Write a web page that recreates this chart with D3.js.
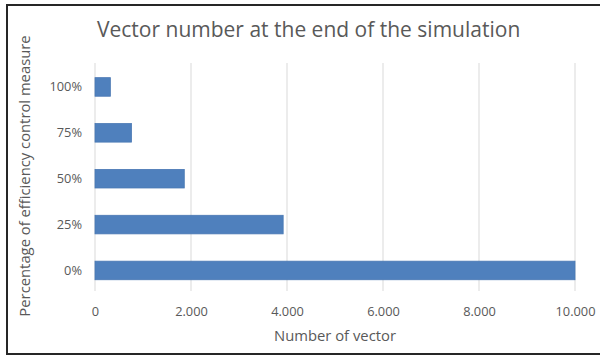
<!DOCTYPE html>
<html>
<head>
<meta charset="utf-8">
<script src="https://cdn.jsdelivr.net/npm/d3@7/dist/d3.min.js"></script>
<style>
  html, body { margin: 0; padding: 0; background: #fff; }
  svg { display: block; }
  text { font-family: "Open Sans", Lato, sans-serif; fill: #595959; }
</style>
</head>
<body>
<svg id="chart" width="600" height="355"></svg>
<script>
// Vector counts at the end of the simulation, per control-efficiency level
const categories = ["0%", "25%", "50%", "75%", "100%"];
const vectorCounts = [10000, 3920, 1860, 760, 320];
const xTicks = [0, 2000, 4000, 6000, 8000, 10000];

const chartTitle = "Vector number at the end of the simulation";
const xTitle = "Number of vector";
const yTitle = "Percentage of efficiency control measure";

const W = 600, H = 355;
const plot = { left: 95, right: 575, top: 63, bottom: 291 };

const svg = d3.select("#chart");

// white background with dark frame
svg.append("rect")
  .attr("x", 7).attr("y", 5).attr("width", W).attr("height", H - 6)
  .attr("fill", "#fff").attr("stroke", "#262626").attr("stroke-width", 2);

const x = d3.scaleLinear().domain([0, 10000]).range([plot.left, plot.right]);
const y = d3.scaleBand()
  .domain(categories.slice().reverse())
  .range([64, 293.4])
  .paddingInner(0.595)
  .paddingOuter(0.2975);

// vertical gridlines
svg.append("g")
  .selectAll("line")
  .data(xTicks)
  .join("line")
  .attr("x1", d => x(d)).attr("x2", d => x(d))
  .attr("y1", plot.top).attr("y2", plot.bottom)
  .attr("stroke", "#d9d9d9").attr("stroke-width", 1);

// bars
svg.append("g")
  .selectAll("rect")
  .data(categories.map((c, i) => ({ c, v: vectorCounts[i] })))
  .join("rect")
  .attr("x", x(0))
  .attr("y", d => y(d.c))
  .attr("width", d => x(d.v) - x(0))
  .attr("height", y.bandwidth())
  .attr("fill", "#4f80bd")
  .attr("stroke", "#4a78b3").attr("stroke-width", 0.8);

// x axis labels
const fmt = d => d === 0 ? "0" : d3.format(",")(d).replace(/,/g, ".");
const xAxis = svg.append("g")
  .attr("transform", `translate(0,${plot.bottom})`)
  .call(d3.axisBottom(x).tickValues(xTicks).tickFormat(fmt).tickSize(0).tickPadding(16));
xAxis.select(".domain").remove();
xAxis.selectAll("text").style("font-size", "12.8px").attr("fill", "#595959")
  .style("font-family", "'Open Sans', Lato, sans-serif");

// y axis labels
const yAxis = svg.append("g")
  .attr("transform", `translate(${plot.left},0)`)
  .call(d3.axisLeft(y).tickSize(0).tickPadding(13));
yAxis.select(".domain").remove();
yAxis.selectAll("text").style("font-size", "12.8px").attr("fill", "#595959")
  .style("font-family", "'Open Sans', Lato, sans-serif");

// titles
svg.append("text")
  .attr("x", 97).attr("y", 37)
  .style("font-size", "21px")
  .text(chartTitle);

svg.append("text")
  .attr("x", (plot.left + plot.right) / 2).attr("y", 341)
  .attr("text-anchor", "middle")
  .style("font-size", "14.8px")
  .text(xTitle);

svg.append("text")
  .attr("transform", "translate(30,176) rotate(-90)")
  .attr("text-anchor", "middle")
  .style("font-size", "14.8px")
  .text(yTitle);
</script>
</body>
</html>
